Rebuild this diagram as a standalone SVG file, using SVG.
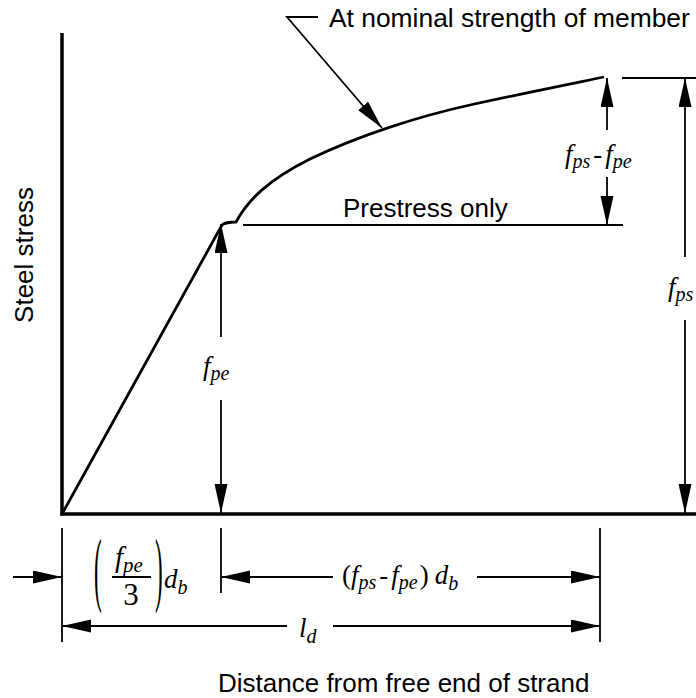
<svg xmlns="http://www.w3.org/2000/svg" width="696" height="698" viewBox="0 0 696 698">
<style>
.lbl{font-family:"Liberation Sans",Arial,sans-serif;font-size:26px;fill:#000}
.m{font-family:"Liberation Serif","Times New Roman",serif;font-style:italic;font-size:27px;fill:#000}
.s{font-size:20px}
.up{font-style:normal}
.ax{stroke:#000;stroke-width:3.5;fill:none}
.crv{stroke:#000;stroke-width:2.8;fill:none;stroke-linejoin:round}
.dim{stroke:#000;stroke-width:1.8;fill:none}
.arr{marker-end:url(#ah)}
</style>
<defs>
<marker id="ah" markerUnits="userSpaceOnUse" markerWidth="30" markerHeight="14" refX="29" refY="6.5" orient="auto">
<path d="M0,0 L29,6.5 L0,13 Z" fill="#000"/>
</marker>
</defs>
<rect width="696" height="698" fill="#fff"/>

<g id="axes">
<line class="ax" x1="62" y1="33" x2="62" y2="515.5"/>
<line class="ax" x1="60.3" y1="514" x2="696" y2="514"/>
</g>

<g id="curve-nominal">
<path class="crv" d="M62,514 L222,225 C225,222.5 229,222 236,222 C248,200 268,180 310,159 C360,135 420,116 470,105 C520,94 560,86 604,77"/>
</g>

<g id="prestress-only">
<line class="dim" x1="243" y1="225" x2="623" y2="225"/>
<text class="lbl" x="343" y="217">Prestress only</text>
</g>

<g id="label-nominal">
<text class="lbl" x="329" y="27" style="font-size:26.4px">At nominal strength of member</text>
</g>

<g id="label-ylabel">
<text class="lbl" transform="translate(33,255) rotate(-90)" text-anchor="middle">Steel stress</text>
</g>

<g id="label-xlabel">
<text class="lbl" x="218" y="692">Distance from free end of strand</text>
</g>

<g id="connectors">
<polyline class="dim arr" points="318,17 287,17 382,128"/>
<line class="dim arr" x1="221" y1="337" x2="221" y2="224"/>
<line class="dim arr" x1="221" y1="400" x2="221" y2="513"/>
<line class="dim" x1="622" y1="78" x2="696" y2="78"/>
<line class="dim arr" x1="607" y1="130" x2="607" y2="78"/>
<line class="dim arr" x1="607" y1="177" x2="607" y2="225"/>
<line class="dim arr" x1="685" y1="257" x2="685" y2="78"/>
<line class="dim arr" x1="685" y1="320" x2="685" y2="513"/>
<line class="dim" x1="62" y1="528" x2="62" y2="642"/>
<line class="dim" x1="221" y1="528" x2="221" y2="593"/>
<line class="dim" x1="600" y1="528" x2="600" y2="642"/>
<line class="dim arr" x1="13" y1="577" x2="62" y2="577"/>
<line class="dim arr" x1="333" y1="577" x2="221" y2="577"/>
<line class="dim arr" x1="477" y1="577" x2="600" y2="577"/>
<line class="dim arr" x1="287" y1="626" x2="62" y2="626"/>
<line class="dim arr" x1="333" y1="626" x2="600" y2="626"/>
</g>

<g id="math-fpe">
<text class="m" x="203" y="375">f<tspan class="s" dy="5">pe</tspan></text>
</g>

<g id="math-fps-fpe">
<text class="m" x="565" y="163">f<tspan class="s" dy="5">ps</tspan><tspan class="up" dy="-5" dx="3">-</tspan><tspan dx="3">f</tspan><tspan class="s" dy="5">pe</tspan></text>
</g>

<g id="math-fps">
<text class="m" x="668" y="296">f<tspan class="s" dy="5">ps</tspan></text>
</g>

<g id="math-fpe3db">
<text class="m up" style="font-size:82px" transform="translate(94,596) scale(0.28,1)">(</text>
<text class="m up" style="font-size:82px" transform="translate(155,596) scale(0.28,1)">)</text>
<text class="m" x="115" y="567" style="font-size:29px">f<tspan style="font-size:21px" dy="5">pe</tspan></text>
<line class="dim" x1="112" y1="577" x2="151" y2="577" stroke-width="1.5"/>
<text class="m up" x="131" y="605" style="font-size:31px" text-anchor="middle">3</text>
<text class="m" x="164" y="588">d<tspan class="s" dy="6">b</tspan></text>
</g>

<g id="math-fps-fpe-db">
<text class="m" x="342" y="584"><tspan class="up">(</tspan>f<tspan class="s" dy="5">ps</tspan><tspan class="up" dy="-5" dx="3">-</tspan><tspan dx="3">f</tspan><tspan class="s" dy="5">pe</tspan><tspan class="up" dy="-5" dx="2">)</tspan><tspan dx="6">d</tspan><tspan class="s" dy="6">b</tspan></text>
</g>

<g id="math-ld">
<text class="m" x="299" y="637">l<tspan class="s" dy="6">d</tspan></text>
</g>
</svg>
